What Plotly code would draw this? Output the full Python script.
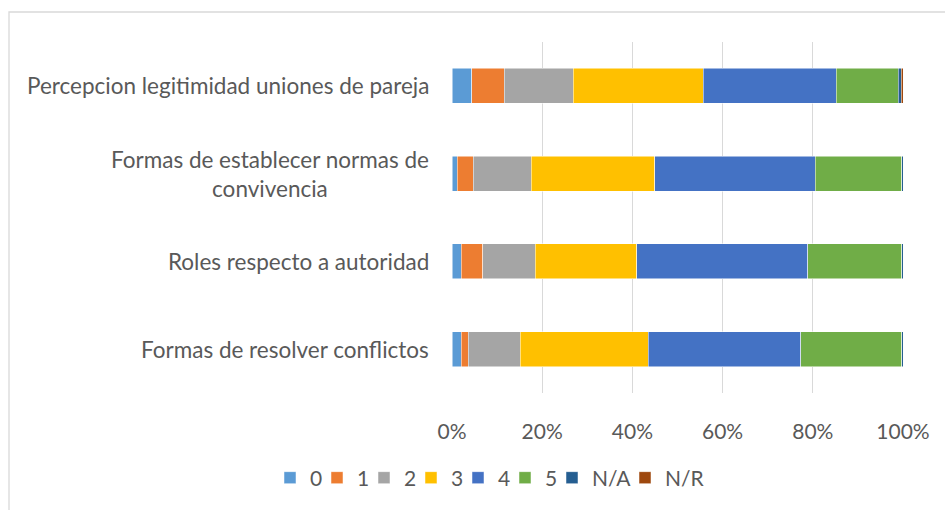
import plotly.graph_objects as go

categories = [
    "Percepcion legitimidad uniones de pareja",
    "Formas de establecer normas de<br>convivencia",
    "Roles respecto a autoridad",
    "Formas de resolver conflictos",
]
series_names = ["0", "1", "2", "3", "4", "5", "N/A", "N/R"]
v0 = [4.36, 1.11, 2.00, 2.00]
v1 = [7.25, 3.62, 4.81, 1.55]
v2 = [15.24, 12.80, 11.69, 11.61]
v3 = [28.85, 27.37, 22.41, 28.40]
v4 = [29.50, 35.65, 38.02, 33.73]
v5 = [13.76, 19.16, 20.78, 22.41]
v_na = [0.67, 0.30, 0.30, 0.30]
v_nr = [0.37, 0.00, 0.00, 0.00]
series_values = [v0, v1, v2, v3, v4, v5, v_na, v_nr]
colors = ["#5B9BD5", "#ED7D31", "#A5A5A5", "#FFC000", "#4472C4", "#70AD47", "#255E91", "#9E480E"]
legend_widths = [2, 2, 2, 2, 2, 2, 28, 40]
tick_vals = [0, 20, 40, 60, 80, 100]
tick_text = ["0%", "20%", "40%", "60%", "80%", "100%"]

FONT = "Lato"
TXT = "#595959"

fig = go.Figure()
for name, vals, col, lw in zip(series_names, series_values, colors, legend_widths):
    fig.add_trace(go.Bar(
        y=categories, x=vals, name=name, orientation="h", legendwidth=lw,
        marker=dict(color=col, line=dict(color="white", width=0.5)),
    ))

W, H = 945, 510
L, R, T, B = 452, 42, 42, 117
pw, ph = W - L - R, H - T - B

for c in categories:
    fig.add_annotation(
        x=0, xref="paper", y=c, yref="y", text=c, showarrow=False,
        xanchor="right", yanchor="middle", align="center", xshift=-21,
        font=dict(family=FONT, size=22.5, color=TXT),
    )

fig.add_shape(
    type="rect", xref="paper", yref="paper",
    x0=(9 - L) / pw, x1=(W + 10 - L) / pw,
    y0=(H - B - 12) / ph, y1=(H - B - (H + 10)) / ph,
    line=dict(color="#D9D9D9", width=1.3), fillcolor="rgba(0,0,0,0)", layer="below",
)

fig.update_layout(
    width=W, height=H,
    margin=dict(l=L, r=R, t=T, b=B),
    barmode="stack", bargap=0.6,
    plot_bgcolor="white", paper_bgcolor="white",
    font=dict(family=FONT, size=21, color=TXT),
    xaxis=dict(
        range=[0, 100], tickvals=tick_vals, ticktext=tick_text,
        showgrid=True, gridcolor="#D9D9D9", gridwidth=1, zeroline=False,
        ticks="outside", ticklen=20, tickcolor="rgba(0,0,0,0)",
        tickfont=dict(family=FONT, size=21, color=TXT), showline=False,
    ),
    yaxis=dict(
        autorange="reversed", showticklabels=False, showgrid=False,
        zeroline=False, showline=False,
    ),
    legend=dict(
        orientation="h", x=(270 - L) / pw, xanchor="left",
        y=-(478 - (H - B)) / ph, yanchor="middle",
        font=dict(family=FONT, size=21, color=TXT),
        itemwidth=30, traceorder="normal", itemclick=False,
    ),
    showlegend=True,
)

fig.write_html(
    "out.html",
    config={"displayModeBar": False},
    post_script="document.body.style.margin='0';",
)
